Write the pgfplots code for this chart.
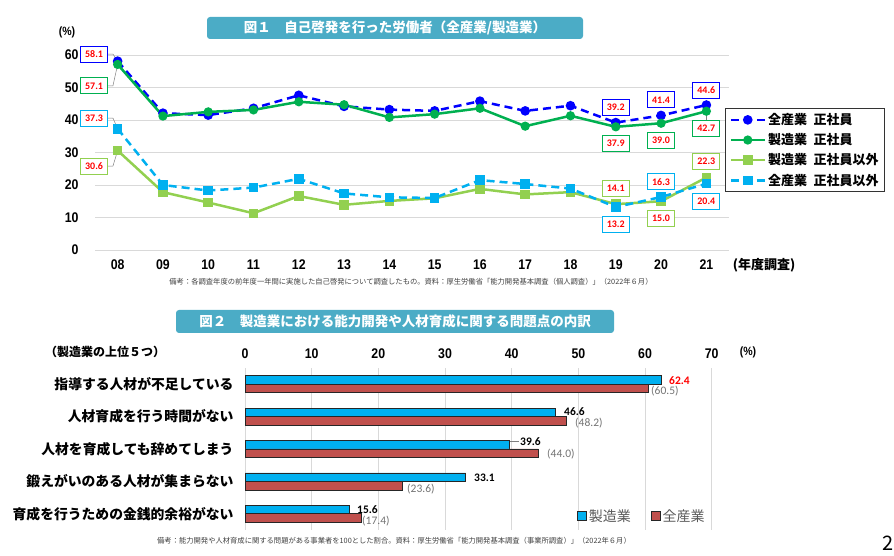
\documentclass[border=0pt]{standalone}
\usepackage{fontspec}
\setmainfont{Noto Sans CJK JP}
\newfontfamily\narrow{Liberation Sans}[FakeStretch=0.88]
\newfontfamily\carl{Carlito}
\usepackage{pgfplots}
\pgfplotsset{compat=1.18}
\definecolor{cBlue}{RGB}{0,0,255}
\definecolor{cGreen}{RGB}{0,176,80}
\definecolor{cLGreen}{RGB}{146,208,80}
\definecolor{cLBlue}{RGB}{0,176,240}
\definecolor{cRed}{RGB}{192,80,77}
\definecolor{cTitle}{RGB}{75,172,198}
\definecolor{cNote}{RGB}{64,64,64}
\definecolor{cGrid}{RGB}{217,217,217}
\tikzset{lbl/.style={draw=#1, fill=white, text=red, font=\carl\bfseries\fontsize{10}{10}\selectfont,
  inner sep=0pt, minimum width=27pt, minimum height=16pt, line width=0.8pt}}
\begin{document}
\begin{tikzpicture}
\useasboundingbox (0pt,0pt) rectangle (894pt,556pt);
% titles
\fill[cTitle, rounded corners=3pt] (207pt,517pt) rectangle (583pt,539pt);
\node[white, font=\bfseries\fontsize{13.5}{13.5}\selectfont] at (395pt,528pt) {図１　自己啓発を行った労働者（全産業/製造業）};
\fill[cTitle, rounded corners=3pt] (176pt,223pt) rectangle (614pt,246pt);
\node[white, font=\bfseries\fontsize{13.5}{13.5}\selectfont] at (395pt,234.5pt) {図２　製造業における能力開発や人材育成に関する問題点の内訳};
% ---------- chart 1 ----------
\begin{axis}[
  at={(95pt,306pt)}, anchor=south west,
  scale only axis, width=634pt, height=195pt,
  xmin=-0.5, xmax=13.5, ymin=0, ymax=60,
  xtick={0,...,13}, xticklabels={08,09,10,11,12,13,14,15,16,17,18,19,20,21},
  ytick={0,10,...,60},
  ymajorgrids, grid style={draw=cGrid, line width=0.8pt},
  axis line style={draw=none}, major tick length=0pt,
  tick label style={font=\narrow\bfseries\fontsize{14}{14}\selectfont},
  yticklabel style={xshift=-13pt},
  xticklabel style={yshift=-6pt},
  /pgf/number format/assume math mode=true,
  clip=false,
  legend style={at={(0.9937,0.728)}, anchor=north west, draw=black!80, line width=1pt,
    font=\bfseries\fontsize{13}{13}\selectfont, row sep=3.5pt, inner xsep=4pt, inner ysep=3pt},
  legend cell align=left,
  legend image code/.code={\draw[mark repeat=2,mark phase=2,#1] plot coordinates {(0pt,0pt) (17pt,0pt) (34pt,0pt)};},
]
\addplot[cBlue, line width=2.5pt, dash pattern=on 8pt off 5pt, mark=*, mark size=3.5pt, mark options={solid}]
 coordinates {(0,58.1) (1,42.1) (2,41.5) (3,43.6) (4,47.6) (5,44.2) (6,43.2) (7,42.8) (8,45.8) (9,42.8) (10,44.4) (11,39.2) (12,41.4) (13,44.6)};
\addplot[cGreen, line width=2.5pt, mark=*, mark size=3.3pt]
 coordinates {(0,57.1) (1,41.2) (2,42.5) (3,43.1) (4,45.6) (5,44.7) (6,40.8) (7,41.8) (8,43.6) (9,38.1) (10,41.3) (11,37.9) (12,39.0) (13,42.7)};
\addplot[cLGreen, line width=2.5pt, mark=square*, mark size=3.5pt]
 coordinates {(0,30.6) (1,17.8) (2,14.6) (3,11.3) (4,16.6) (5,13.9) (6,15.1) (7,15.9) (8,18.8) (9,17.1) (10,17.8) (11,14.1) (12,15.0) (13,22.3)};
\addplot[cLBlue, line width=2.5pt, dash pattern=on 8pt off 5pt, mark=square*, mark size=3.5pt, mark options={solid}]
 coordinates {(0,37.3) (1,20.0) (2,18.3) (3,19.2) (4,21.9) (5,17.4) (6,16.2) (7,16.0) (8,21.5) (9,20.3) (10,18.9) (11,13.2) (12,16.3) (13,20.4)};
\legend{全産業\hspace{0.5em}正社員, 製造業\hspace{0.5em}正社員, 製造業\hspace{0.5em}正社員以外, 全産業\hspace{0.5em}正社員以外}
% leader lines
\draw[gray, line width=0.5pt] (axis cs:-0.214,60.3) -- (axis cs:-0.104,60.3) -- (axis cs:0,58.1);
\draw[gray, line width=0.5pt] (axis cs:-0.214,50.5) -- (axis cs:-0.104,50.5) -- (axis cs:0,57.1);
\draw[gray, line width=0.5pt] (axis cs:-0.214,40.6) -- (axis cs:-0.104,40.6) -- (axis cs:0,37.3);
\draw[gray, line width=0.5pt] (axis cs:-0.214,25.8) -- (axis cs:-0.104,25.8) -- (axis cs:0,30.6);
\draw[gray, line width=0.5pt] (axis cs:13,42.7) -- (axis cs:13,39.9);
% labels
\node[lbl=cBlue] at (axis cs:-0.52,60.3) {58.1};
\node[lbl=cGreen] at (axis cs:-0.52,50.5) {57.1};
\node[lbl=cLBlue] at (axis cs:-0.52,40.6) {37.3};
\node[lbl=cLGreen] at (axis cs:-0.52,25.8) {30.6};
\node[lbl=cBlue] at (axis cs:11,44.0) {39.2};
\node[lbl=cGreen] at (axis cs:11,32.9) {37.9};
\node[lbl=cBlue] at (axis cs:12,46.2) {41.4};
\node[lbl=cGreen] at (axis cs:12,33.8) {39.0};
\node[lbl=cBlue] at (axis cs:13,49.2) {44.6};
\node[lbl=cGreen] at (axis cs:13,37.5) {42.7};
\node[lbl=cLGreen] at (axis cs:11,18.9) {14.1};
\node[lbl=cLBlue] at (axis cs:11,8.0) {13.2};
\node[lbl=cLBlue] at (axis cs:12,21.0) {16.3};
\node[lbl=cLGreen] at (axis cs:12,9.8) {15.0};
\node[lbl=cLGreen] at (axis cs:13,27.2) {22.3};
\node[lbl=cLBlue] at (axis cs:13,15.1) {20.4};
\end{axis}
\node[font=\narrow\bfseries\fontsize{12}{12}\selectfont] at (67pt,524pt) {(\%)};
\node[font=\bfseries\fontsize{13}{13}\selectfont] at (764pt,291pt) {(年度調査)};
\node[text=cNote, font=\fontsize{7.3}{7.3}\selectfont] at (411pt,274pt) {備考：各調査年度の前年度一年間に実施した自己啓発について調査したもの。資料：厚生労働省「能力開発基本調査（個人調査）」（2022年６月）};
% ---------- chart 2 ----------
\begin{axis}[
  at={(245pt,26pt)}, anchor=south west,
  scale only axis, width=466.7pt, height=162pt,
  xbar, xmin=0, xmax=70, ymin=-0.5, ymax=4.5,
  bar width=8.5pt,
  xtick={0,10,...,70}, xticklabel pos=upper,
  ytick={0,...,4},
  yticklabels={育成を行うための金銭的余裕がない, 鍛えがいのある人材が集まらない, 人材を育成しても辞めてしまう, 人材育成を行う時間がない, 指導する人材が不足している},
  xmajorgrids, grid style={draw=cGrid, line width=0.8pt},
  axis line style={draw=none}, major tick length=0pt,
  xticklabel style={font=\narrow\bfseries\fontsize{14}{14}\selectfont, yshift=6pt},
  yticklabel style={font=\bfseries\fontsize{13.8}{13.8}\selectfont, xshift=-8pt},
  /pgf/number format/assume math mode=true,
  clip=false,
  legend columns=2,
  legend style={at={(0.705,0.02)}, anchor=south west, draw=none, fill=none,
    font=\fontsize{14}{14}\selectfont, text=black!65,
    /tikz/every even column/.append style={column sep=18pt}},
  legend image code/.code={\draw[#1, line width=0.7pt] (0pt,-4.5pt) rectangle (9pt,4.5pt);},
]
\addplot[fill=cLBlue, draw=black!85, line width=0.7pt, bar shift=4.25pt]
 coordinates {(62.4,4) (46.6,3) (39.6,2) (33.1,1) (15.6,0)};
\addplot[fill=cRed, draw=black!85, line width=0.7pt, bar shift=-4.25pt]
 coordinates {(60.5,4) (48.2,3) (44.0,2) (23.6,1) (17.4,0)};
\legend{製造業, 全産業}
\draw[gray, line width=0.5pt] (axis cs:39.7,2.225) -- (axis cs:41.1,2.225);
\begin{scope}[every node/.style={anchor=west, inner sep=0pt, font=\carl\bfseries\fontsize{11.5}{11.5}\selectfont}]
\node[text=red] at (axis cs:63.6,4.099) {62.4};
\node at (axis cs:47.85,3.15) {46.6};
\node at (axis cs:41.25,2.225) {39.6};
\node at (axis cs:34.35,1.105) {33.1};
\node at (axis cs:16.8,0.14) {15.6};
\end{scope}
\begin{scope}[every node/.style={anchor=west, inner sep=0pt, text=black!55, font=\carl\fontsize{11.5}{11.5}\selectfont}]
\node at (axis cs:60.9,3.79) {(60.5)};
\node at (axis cs:49.5,2.80) {(48.2)};
\node at (axis cs:45.3,1.846) {(44.0)};
\node at (axis cs:24.3,0.765) {(23.6)};
\node at (axis cs:17.55,-0.22) {(17.4)};
\end{scope}
\end{axis}
\node[font=\bfseries\fontsize{12}{12}\selectfont] at (105pt,204pt) {（製造業の上位５つ）};
\node[font=\narrow\bfseries\fontsize{12}{12}\selectfont] at (748pt,204pt) {(\%)};
\node[text=cNote, font=\fontsize{7.3}{7.3}\selectfont] at (394pt,15pt) {備考：能力開発や人材育成に関する問題がある事業者を100とした割合。資料：厚生労働省「能力開発基本調査（事業所調査）」（2022年６月）};
\node[font=\fontsize{20}{20}\selectfont, anchor=east, inner sep=0pt] at (894pt,13pt) {2};
\end{tikzpicture}
\end{document}
